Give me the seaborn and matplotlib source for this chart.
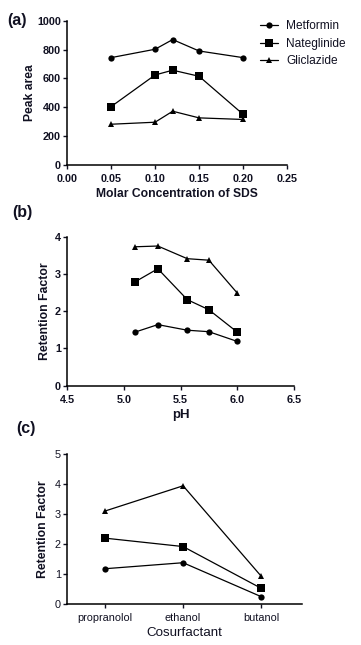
import numpy as np
import pandas as pd
import seaborn as sns
import matplotlib
matplotlib.use("Agg")
from matplotlib import pyplot as plt

compounds = ["Metformin", "Nateglinide", "Gliclazide"]

# (a) peak area vs SDS concentration
sds = [0.05, 0.10, 0.12, 0.15, 0.20]
area_met = [744, 802, 869, 790, 744]
area_nat = [405, 624, 657, 615, 352]
area_gli = [283, 297, 373, 327, 316]

# (b) retention factor vs pH
ph = [5.1, 5.3, 5.56, 5.75, 6.0]
k_ph_met = [1.44, 1.64, 1.49, 1.45, 1.19]
k_ph_nat = [2.79, 3.14, 2.31, 2.04, 1.44]
k_ph_gli = [3.73, 3.75, 3.41, 3.37, 2.49]

# (c) retention factor vs cosurfactant
cosurf = ["propranolol", "ethanol", "butanol"]
k_co_met = [1.17, 1.37, 0.24]
k_co_nat = [2.19, 1.91, 0.52]
k_co_gli = [3.10, 3.94, 0.93]

sns.set_theme(style="ticks")
plt.rcParams['font.family'] = ['Liberation Sans', 'DejaVu Sans']
ink = "#111122"
plt.rcParams['text.color'] = ink
plt.rcParams['axes.labelcolor'] = ink
plt.rcParams['xtick.color'] = ink
plt.rcParams['ytick.color'] = ink


def long_form(x, ys, xname):
    rows = []
    for name, vals in zip(compounds, ys):
        for xv, yv in zip(x, vals):
            rows.append({xname: xv, "value": yv, "compound": name})
    return pd.DataFrame(rows)


markers = {"Metformin": "o", "Nateglinide": "s", "Gliclazide": "^"}
sizes = {"Metformin": 4.5, "Nateglinide": 5.2, "Gliclazide": 4.5}

fig = plt.figure(figsize=(3.61, 6.45), dpi=100)
ax_a = fig.add_axes([0.186, 0.744, 0.609, 0.224])
ax_b = fig.add_axes([0.186, 0.402, 0.628, 0.231])
ax_c = fig.add_axes([0.186, 0.064, 0.651, 0.232])


def draw(ax, data, xname):
    for c in compounds:
        sub = data[data["compound"] == c]
        sns.lineplot(data=sub, x=xname, y="value", ax=ax, color="black",
                     marker=markers[c], markersize=sizes[c], markeredgewidth=0,
                     linewidth=0.9, label=c, legend=False)


def style(ax, bold=True):
    sns.despine(ax=ax)
    for s in ["left", "bottom"]:
        ax.spines[s].set_linewidth(1.1)
        ax.spines[s].set_color("black")
    ax.tick_params(length=3, width=1.0, labelsize=7.8)
    ax.tick_params(axis="x", pad=3.5)
    ax.tick_params(axis="y", pad=1.5)
    if bold:
        for t in ax.get_xticklabels() + ax.get_yticklabels():
            t.set_fontweight("bold")


df_a = long_form(sds, [area_met, area_nat, area_gli], "sds")
draw(ax_a, df_a, "sds")
ax_a.set_xlim(0, 0.25)
ax_a.set_ylim(0, 1000)
ax_a.set_xticks(np.arange(0, 0.26, 0.05))
ax_a.set_xticklabels(["0.00", "0.05", "0.10", "0.15", "0.20", "0.25"])
ax_a.set_yticks(range(0, 1001, 200))
ax_a.set_xlabel("Molar Concentration of SDS", fontsize=8.7, fontweight="bold", labelpad=3)
ax_a.set_ylabel("Peak area", fontsize=8.7, fontweight="bold", labelpad=1)
style(ax_a)

df_b = long_form(ph, [k_ph_met, k_ph_nat, k_ph_gli], "ph")
draw(ax_b, df_b, "ph")
ax_b.set_xlim(4.5, 6.5)
ax_b.set_ylim(0, 4)
ax_b.set_xticks([4.5, 5.0, 5.5, 6.0, 6.5])
ax_b.set_yticks(range(0, 5))
ax_b.set_xlabel("pH", fontsize=9.5, fontweight="bold", labelpad=3)
ax_b.set_ylabel("Retention Factor", fontsize=8.8, fontweight="bold", labelpad=3)
style(ax_b)

df_c = long_form(cosurf, [k_co_met, k_co_nat, k_co_gli], "cosurf")
df_c["pos"] = df_c["cosurf"].map({c: i for i, c in enumerate(cosurf)})
draw(ax_c, df_c, "pos")
ax_c.set_xlim(-0.49, 2.53)
ax_c.set_ylim(0, 5)
ax_c.set_xticks(range(len(cosurf)))
ax_c.set_xticklabels(cosurf)
ax_c.set_yticks(range(0, 6))
ax_c.set_xlabel("Cosurfactant", fontsize=9.6, labelpad=3)
ax_c.set_ylabel("Retention Factor", fontsize=8.8, fontweight="bold", labelpad=4)
style(ax_c, bold=False)

handles, labels = ax_a.get_legend_handles_labels()
fig.legend(handles, labels, loc="upper left", bbox_to_anchor=(0.69, 0.985),
           frameon=False, fontsize=8.6, handlelength=1.5, handletextpad=0.7,
           labelspacing=0.45)

fig.text(0.02, 0.968, "(a)", fontsize=11.5, fontweight="bold", va="center")
fig.text(0.035, 0.671, "(b)", fontsize=11.5, fontweight="bold", va="center")
fig.text(0.045, 0.336, "(c)", fontsize=11.5, fontweight="bold", va="center")

fig.savefig("out.png", dpi=100)
